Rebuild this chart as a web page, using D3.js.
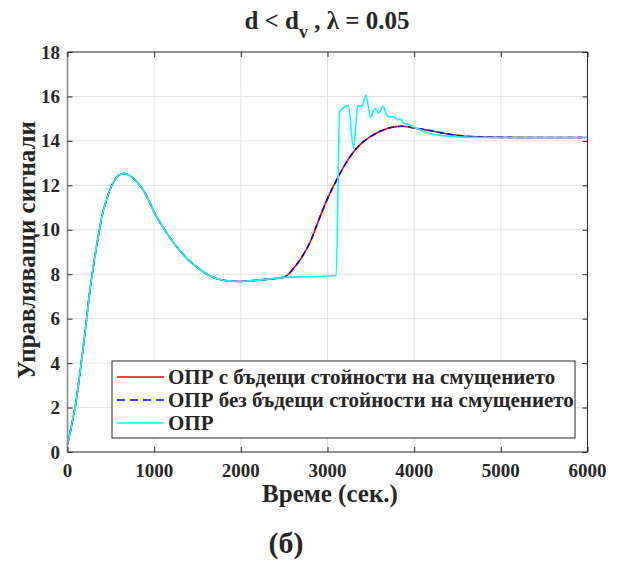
<!DOCTYPE html>
<html>
<head>
<meta charset="utf-8">
<script src="https://cdn.jsdelivr.net/npm/d3@7"></script>
<style>
  html, body { margin: 0; padding: 0; background: #fff; }
  svg { display: block; }
</style>
</head>
<body>
<svg id="chart" width="625" height="562"></svg>
<script>
// ---- data ----
const xTicks = [0, 1000, 2000, 3000, 4000, 5000, 6000];
const yTicks = [0, 2, 4, 6, 8, 10, 12, 14, 16, 18];
const seriesNames = [
  "ОПР с бъдещи стойности на смущението",
  "ОПР без бъдещи стойности на смущението",
  "ОПР"
];

// common early part (time, value)
const timeA = [0, 50, 100, 150, 200, 250, 300, 350, 400, 450, 500, 550, 600, 650, 700, 750, 800, 850, 900, 950, 1000, 1100, 1200, 1300, 1400, 1500, 1600, 1700, 1800, 1900, 2000, 2100, 2200, 2300, 2400, 2500];
const valueA = [0.35, 1.25, 2.3, 3.75, 5.3, 7.0, 8.4, 9.6, 10.65, 11.35, 11.9, 12.27, 12.48, 12.53, 12.48, 12.35, 12.15, 11.92, 11.62, 11.22, 10.8, 10.12, 9.55, 9.05, 8.62, 8.3, 8.02, 7.83, 7.73, 7.69, 7.68, 7.7, 7.73, 7.77, 7.81, 7.86];

// ОПР с бъдещи стойности (after 2500)
const timeRed = [2550, 2600, 2700, 2800, 2900, 3000, 3100, 3200, 3300, 3400, 3500, 3600, 3700, 3800, 3850, 3900, 4000, 4175, 4370, 4560, 4750, 5000, 5500, 6000];
const valueRed = [8.0, 8.22, 8.75, 9.45, 10.45, 11.4, 12.2, 12.92, 13.5, 13.92, 14.2, 14.42, 14.57, 14.64, 14.66, 14.65, 14.58, 14.47, 14.32, 14.22, 14.18, 14.16, 14.15, 14.15];

// ОПР без бъдещи стойности (after 2500)
const timeBlue = [2550, 2600, 2700, 2800, 2900, 3000, 3100, 3200, 3300, 3400, 3500, 3600, 3700, 3800, 3850, 3900, 4000, 4175, 4370, 4560, 4750, 5000, 5500, 6000];
const valueBlue = [8.0, 8.22, 8.75, 9.45, 10.45, 11.4, 12.2, 12.92, 13.5, 13.92, 14.2, 14.42, 14.57, 14.64, 14.66, 14.65, 14.58, 14.47, 14.32, 14.22, 14.18, 14.16, 14.15, 14.15];

// ОПР (after 2500)
const timeCyan = [2800, 3100, 3140, 3240, 3300, 3350, 3400, 3445, 3495, 3550, 3590, 3640, 3690, 3740, 3780, 3800, 3840, 3880, 3930, 3990, 4050, 4175, 4370, 4560, 4750, 5000, 6000];
const valueCyan = [7.89, 7.94, 15.3, 15.6, 13.7, 15.55, 15.6, 16.05, 15.07, 15.45, 15.25, 15.55, 15.12, 15.08, 15.05, 14.95, 14.98, 14.8, 14.75, 14.62, 14.54, 14.33, 14.22, 14.17, 14.15, 14.15, 14.15];

const colors = ["#ff0000", "#0000ff", "#00ffff"];
const FONT = '"Liberation Serif"';

// ---- layout ----
const svg = d3.select("#chart");
const L = 67.5, R = 587.5, T = 52, B = 452;
const x = d3.scaleLinear().domain([0, 6000]).range([L, R]);
const y = d3.scaleLinear().domain([0, 18]).range([B, T]);

// grid
const grid = svg.append("g");
grid.selectAll("line.gx").data(xTicks.slice(1, -1)).enter().append("line")
  .attr("x1", d => x(d)).attr("x2", d => x(d)).attr("y1", T).attr("y2", B)
  .attr("stroke", "#e3e3e3").attr("stroke-width", 1);
grid.selectAll("line.gy").data(yTicks.slice(1, -1)).enter().append("line")
  .attr("y1", d => y(d)).attr("y2", d => y(d)).attr("x1", L).attr("x2", R)
  .attr("stroke", "#e3e3e3").attr("stroke-width", 1);

// lines
const zip = (ts, vs) => ts.map((t, i) => [t, vs[i]]);
const redData = zip(timeA, valueA).concat(zip(timeRed, valueRed));
const blueData = zip(timeA, valueA).concat(zip(timeBlue, valueBlue));
const cyanData = zip(timeA, valueA).concat(zip(timeCyan, valueCyan));

const lineGen = d3.line().x(d => x(d[0])).y(d => y(d[1])).curve(d3.curveMonotoneX);

svg.append("path").datum(redData).attr("d", lineGen)
  .attr("fill", "none").attr("stroke", colors[0]).attr("stroke-width", 1.6);
svg.append("path").datum(blueData).attr("d", lineGen)
  .attr("fill", "none").attr("stroke", colors[1]).attr("stroke-width", 1.6)
  .attr("stroke-dasharray", "6,4");
svg.append("path").datum(cyanData).attr("d", lineGen)
  .attr("fill", "none").attr("stroke", colors[2]).attr("stroke-width", 1.6)
  .attr("stroke-linejoin", "round");

// axes box
const axC = "#262626";
svg.append("line").attr("x1", L).attr("x2", R).attr("y1", T).attr("y2", T).attr("stroke", axC);
svg.append("line").attr("x1", R).attr("x2", R).attr("y1", T).attr("y2", B).attr("stroke", axC);
svg.append("line").attr("x1", L).attr("x2", R).attr("y1", B).attr("y2", B).attr("stroke", axC);
svg.append("line").attr("x1", L).attr("x2", L).attr("y1", T).attr("y2", B).attr("stroke", "#8a8a8a").attr("stroke-width", 1.6);

// ticks using axes (inward)
const xAxisB = d3.axisBottom(x).tickValues(xTicks).tickSize(-5).tickFormat("");
const xAxisT = d3.axisTop(x).tickValues(xTicks).tickSize(-5).tickFormat("");
const yAxisL = d3.axisLeft(y).tickValues(yTicks).tickSize(-5).tickFormat("");
const yAxisR = d3.axisRight(y).tickValues(yTicks).tickSize(-5).tickFormat("");
[[xAxisB, `translate(0,${B})`], [xAxisT, `translate(0,${T})`], [yAxisL, `translate(${L},0)`], [yAxisR, `translate(${R},0)`]].forEach(([ax, tr]) => {
  const g = svg.append("g").attr("transform", tr).call(ax);
  g.select(".domain").remove();
  g.selectAll(".tick line").attr("stroke", axC);
});

const txt = (sel) => sel.style("font-family", FONT).attr("font-weight", "bold").attr("fill", "#262626");

// tick labels
svg.append("g").selectAll("text").data(xTicks).enter().append("text")
  .call(txt)
  .attr("x", d => x(d)).attr("y", 477).attr("text-anchor", "middle")
  .attr("font-size", 19).text(d => d);
svg.append("g").selectAll("text").data(yTicks).enter().append("text")
  .call(txt)
  .attr("x", 60).attr("y", d => y(d) + 6.5).attr("text-anchor", "end")
  .attr("font-size", 19).text(d => d);

// axis titles
svg.append("text").call(txt).attr("x", 330).attr("y", 502).attr("text-anchor", "middle")
  .attr("font-size", 25).text("Време (сек.)");
svg.append("text").call(txt).attr("transform", "translate(35,250) rotate(-90)").attr("text-anchor", "middle")
  .attr("font-size", 25).text("Управляващи сигнали");

// title
const title = svg.append("text").call(txt).attr("x", 327).attr("y", 29).attr("text-anchor", "middle").attr("font-size", 25);
title.append("tspan").text("d < d");
title.append("tspan").attr("font-size", 18).attr("dy", 9).text("v");
title.append("tspan").attr("dy", -9).text(" , λ = 0.05");

// sub caption
svg.append("text").call(txt).attr("x", 286).attr("y", 553).attr("text-anchor", "middle")
  .attr("font-size", 30).text("(б)");

// legend
const lg = svg.append("g");
lg.append("rect").attr("x", 112).attr("y", 361).attr("width", 463).attr("height", 77)
  .attr("fill", "#fff").attr("stroke", axC).attr("stroke-width", 1);
const rowsY = [377, 400, 423];
seriesNames.forEach((name, i) => {
  const ln = lg.append("line").attr("x1", 117).attr("x2", 164).attr("y1", rowsY[i]).attr("y2", rowsY[i])
    .attr("stroke", colors[i]).attr("stroke-width", 1.6);
  if (i === 1) ln.attr("stroke-dasharray", "8,5");
  lg.append("text").call(txt).attr("x", 168).attr("y", rowsY[i] + 7).attr("font-size", 21).text(name);
});
</script>
</body>
</html>
